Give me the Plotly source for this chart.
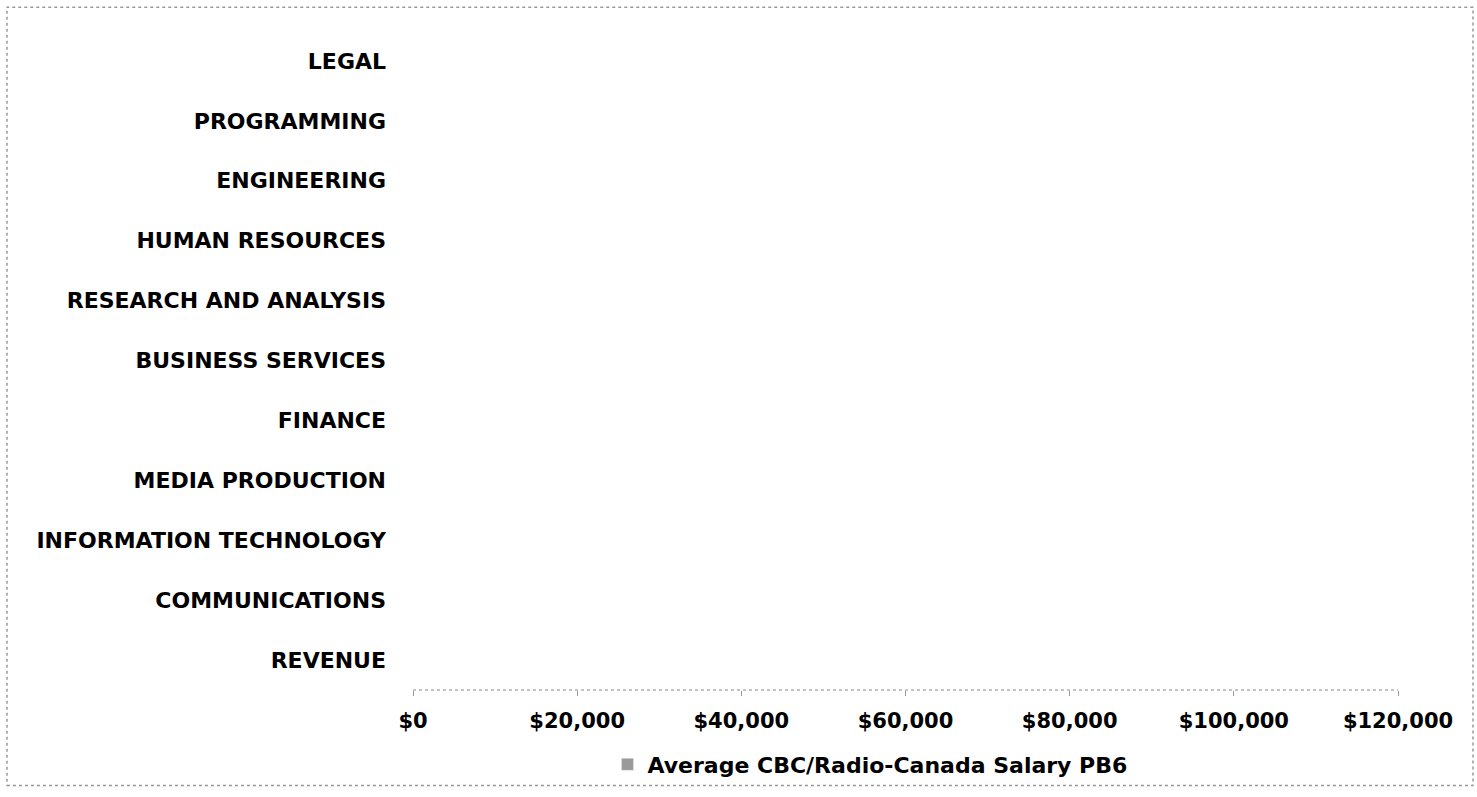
import plotly.graph_objects as go

categories = ["REVENUE", "COMMUNICATIONS", "INFORMATION TECHNOLOGY", "MEDIA PRODUCTION",
              "FINANCE", "BUSINESS SERVICES", "RESEARCH AND ANALYSIS", "HUMAN RESOURCES",
              "ENGINEERING", "PROGRAMMING", "LEGAL"]
# No bars are visible in the reference; values cannot be read
salary = [None] * len(categories)
series_name = "Average CBC/Radio-Canada Salary PB6"
tick_values = [0, 20000, 40000, 60000, 80000, 100000, 120000]
tick_labels = ["$0", "$20,000", "$40,000", "$60,000", "$80,000", "$100,000", "$120,000"]

W, H = 1477, 797
L, R, T, B = 413, 1477 - 1398, 31, 797 - 694
pw, ph = W - L - R, H - T - B

def px_x(p):
    return (p - L) / pw

def px_y(p):
    return (H - B - p) / ph

font = "DejaVu Sans"

fig = go.Figure(go.Bar(
    y=categories, x=salary, orientation="h", name=series_name,
    marker=dict(color="#9a9a9a"), showlegend=True,
))

fig.update_layout(
    width=W, height=H,
    margin=dict(l=L, r=R, t=T, b=B, pad=0),
    paper_bgcolor="white", plot_bgcolor="white",
    font=dict(family=font, size=19, color="black"),
    xaxis=dict(range=[0, 120000], tickmode="array", tickvals=tick_values, ticktext=tick_labels,
               showgrid=False, zeroline=False, showline=False,
               ticks="outside", ticklen=5, tickcolor="#999999", ticklabelstandoff=7,
               tickfont=dict(family=font, size=21, color="black", weight="bold")),
    yaxis=dict(categoryorder="array", categoryarray=categories, showgrid=False,
               zeroline=False, showline=False, ticks="", ticklabelstandoff=26,
               tickfont=dict(family=font, size=22, color="black", weight="bold")),
    legend=dict(orientation="h", x=px_x(870), xanchor="center", y=px_y(769), yanchor="middle",
                bgcolor="rgba(0,0,0,0)",
                font=dict(family=font, size=22, color="black", weight="bold"),
                itemwidth=30),
    shapes=[
        dict(type="line", xref="x", yref="paper", x0=0, x1=120000, y0=0, y1=0,
             line=dict(color="#888888", width=1, dash="dot")),
        dict(type="rect", xref="paper", yref="paper",
             x0=px_x(7), x1=px_x(1473), y0=px_y(790), y1=px_y(7),
             line=dict(color="#999999", width=1.5, dash="dot"), layer="above"),
    ],
)

fig.write_html("out.html")
